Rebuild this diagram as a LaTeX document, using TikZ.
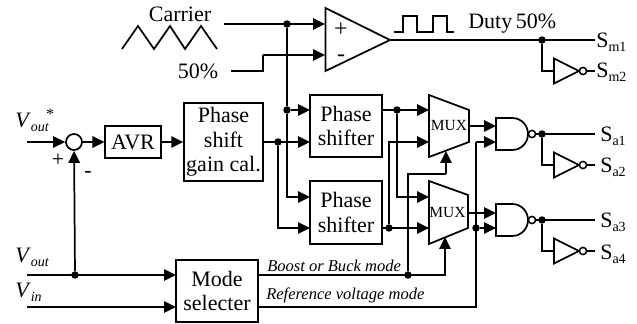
\documentclass[tikz,border=0pt]{standalone}
\usepackage{fontspec}
\setmainfont{Liberation Serif}
\usetikzlibrary{arrows.meta, positioning, calc}
\tikzset{
    wire/.style  ={line width=1.3pt, draw=black, line join=miter},
    ar/.style    ={wire, -{Triangle[length=9pt, width=8.5pt]}},
    blk/.style   ={draw=black, line width=1.3pt, fill=white, inner sep=0pt,
                   align=center, font=\fontsize{16.5}{18.5}\selectfont},
    jn/.style    ={circle, fill=black, inner sep=0pt, minimum size=5.6pt},
    bub/.style   ={circle, draw=black, line width=1.1pt, fill=white, inner sep=0pt, minimum size=5.4pt},
    lbl/.style   ={font=\fontsize{16.5}{18.5}\selectfont, inner sep=0pt},
    modelbl/.style={font=\fontsize{12.4}{14}\itshape, inner sep=0pt, anchor=west},
    muxlbl/.style={font=\fontsize{11.6}{13}\selectfont, inner sep=0pt}
}
\newcommand{\subs}[1]{\raisebox{-2.6pt}{\fontsize{10.5}{12}\selectfont #1}}
\newcommand{\nandg}[3]{%
  \draw[wire, fill=white, shift={(#2,#3)}] (0,0) -- (16,0) .. controls (26,0) and (32,8) .. (32,16)
     .. controls (32,24) and (26,32) .. (16,32) -- (0,32) -- cycle;
  \node[bub] (#1) at (#2+36,#3+16) {};}
\newcommand{\invg}[2]{%
  \draw[wire, fill=white] (554,#2-12.5) -- (579,#2) -- (554,#2+12.5) -- cycle;
  \coordinate (#1in) at (554,#2);
  \node[bub] (#1) at (583,#2) {};
  \coordinate (#1out) at (595,#2);}

\begin{document}
\begin{tikzpicture}[x=0.75pt, y=-0.75pt]
  \useasboundingbox (0,0) rectangle (637,324);

  % blocks
  \node[blk, minimum width=41.5pt, minimum height=23.5pt] (avr) at (133,142) {AVR};
  \node[blk, minimum width=59pt, minimum height=58.5pt] (gain) at (223.5,142) {Phase\\shift\\gain cal.};
  \node[blk, minimum width=54pt, minimum height=46.5pt] (ps1) at (346,126) {Phase\\shifter};
  \node[blk, minimum width=54pt, minimum height=47pt] (ps2) at (346,212.5) {Phase\\shifter};
  \node[blk, minimum width=61.5pt, minimum height=46.5pt] (mode) at (217,291) {Mode\\selecter};
  \node[circle, draw=black, line width=1.3pt, fill=white, inner sep=0pt, minimum size=12pt] (sum) at (74,142) {};

  % comparator and mux
  \draw[wire, fill=white] (325.5,8) -- (390,40) -- (325.5,71) -- cycle;
  \draw[wire, fill=white] (429,95) -- (469,110) -- (469,142) -- (429,157) -- cycle;
  \draw[wire, fill=white] (429,181) -- (468,195) -- (468,228) -- (429,244) -- cycle;
  \node[muxlbl] (mux1) at (449,126) {MUX};
  \node[muxlbl] (mux2) at (447.5,213) {MUX};
  \node[lbl, font=\fontsize{18}{20}\selectfont] (plus) at (341,30) {+};
  \node[lbl, font=\fontsize{18}{20}\selectfont] (minus) at (341,58) {-};

  % gates
  \nandg{nand1}{496}{118}
  \nandg{nand2}{496}{204}
  \invg{im2}{71}
  \invg{ia2}{165}
  \invg{ia4}{251}

  % carrier and pulse
  \draw[wire] (122,49) -- (138,26) -- (154,49) -- (170,26) -- (185,49) -- (201,26) -- (217,49);
  \draw[wire] (393.5,32) -- (403,32) -- (403,16) -- (417,16) -- (417,32) -- (433,32) -- (433,16) -- (447,16) -- (447,32) -- (454,32);

  % free ends and junctions
  \coordinate (carr) at (224,24);
  \coordinate (c50) at (231,71);
  \coordinate (cmpp) at (325,24);
  \coordinate (cmpm) at (325,55);
  \coordinate (cmpo) at (390,40);
  \coordinate (vref) at (27,142);
  \coordinate (vo) at (27,275);
  \coordinate (vi) at (27,307);
  \coordinate (sm1) at (595,40);
  \coordinate (sa1) at (595,134);
  \coordinate (sa3) at (595,220);
  \coordinate (m1a) at (429,110);
  \coordinate (m1b) at (429,142);
  \coordinate (m1s) at (446,151);
  \coordinate (m1o) at (469,126);
  \coordinate (m2a) at (429,197);
  \coordinate (m2b) at (429,228);
  \coordinate (m2s) at (445,237);
  \coordinate (m2o) at (468,213);
  \coordinate (n1a) at (496,126);
  \coordinate (n1b) at (496,142);
  \coordinate (n2a) at (496,213);
  \coordinate (n2b) at (496,228);
  \coordinate (p1a) at (310,110);
  \coordinate (p1b) at (310,142);
  \coordinate (p2a) at (310,197);
  \coordinate (p2b) at (310,228);
  \coordinate (md1) at (176,275);
  \coordinate (md2) at (176,307);
  \coordinate (mdo1) at (258,275);
  \coordinate (mdo2) at (258,307);
  \coordinate (bend) at (446,174);
  \node[jn] (jc)  at (287,24) {};
  \node[jn] (jp)  at (287,110) {};
  \node[jn] (jg)  at (278,142) {};
  \node[jn] (jo1) at (397,110) {};
  \node[jn] (jo2) at (389,228) {};
  \node[jn] (jm)  at (542,40) {};
  \node[jn] (jv)  at (75,275) {};
  \node[jn] (jb)  at (408,275) {};
  \node[jn] (jr)  at (476,228) {};
  \node[jn] (ja1) at (542,134) {};
  \node[jn] (ja3) at (542,220) {};

  % top row
  \draw[ar] (carr) -- (cmpp);
  \draw[wire] (c50) -- (263,71) -- (263,55);
  \draw[ar] (263,55) -- (cmpm);
  \draw[wire] (jc) -- (jp);
  \draw[ar] (jp) -- (p1a);
  \draw[ar] (jp) |- (p2a);
  \draw[wire] (cmpo) -- (sm1);
  \draw[wire] (jm) |- (im2in);
  \draw[wire] (im2) -- (im2out);

  % feedback path
  \draw[ar] (vref) -- (sum);
  \draw[ar] (sum) -- (avr);
  \draw[ar] (avr) -- (gain);
  \draw[ar] (gain.east |- jg) -- (p1b);
  \draw[ar] (jg) |- (p2b);
  \draw[ar] (jv) -- (sum);
  \draw[ar] (vo) -- (md1);
  \draw[ar] (vi) -- (md2);

  % phase shifters to mux
  \draw[ar] ($(ps1.east |- jo1)$) -- (m1a);
  \draw[ar] (jo1) |- (m2a);
  \draw[ar] ($(ps2.east |- jo2)$) -- (m2b);
  \draw[ar] (jo2) |- (m1b);

  % mode lines
  \draw[ar] (mdo1) -| (m2s);
  \draw[wire] (jb) |- (bend);
  \draw[ar] (bend) -- (m1s);
  \draw[wire] (mdo2) -| (476,142);
  \draw[ar] (476,142) -- (n1b);
  \draw[ar] (jr) -- (n2b);

  % mux to gates
  \draw[ar] (m1o) -- (n1a);
  \draw[ar] (m2o) -- (n2a);
  \draw[wire] (nand1) -- (sa1);
  \draw[wire] (nand2) -- (sa3);
  \draw[wire] (ja1) |- (ia2in);
  \draw[wire] (ia2) -- (ia2out);
  \draw[wire] (ja3) |- (ia4in);
  \draw[wire] (ia4) -- (ia4out);

  % labels
  \node[lbl] (lcarr) at (180,14) {Carrier};
  \node[lbl] (l50) at (198,71) {50\%};
  \node[lbl, anchor=west] (lduty) at (468,24) {Duty\,50\%};
  \node[lbl, anchor=base west] (lsm1) at (596,48) {S\subs{m1}};
  \node[lbl, anchor=base west] (lsm2) at (596,78) {S\subs{m2}};
  \node[lbl, anchor=base west] (lsa1) at (600,142) {S\subs{a1}};
  \node[lbl, anchor=base west] (lsa2) at (600,173) {S\subs{a2}};
  \node[lbl, anchor=base west] (lsa3) at (600,228) {S\subs{a3}};
  \node[lbl, anchor=base west] (lsa4) at (600,260) {S\subs{a4}};
  \node[lbl, anchor=base west] (lvref) at (15,128) {\textit{V}\subs{\textit{out}}};
  \node[lbl, font=\fontsize{12}{13}\selectfont] (lstar) at (50,114) {*};
  \node[lbl, anchor=base west] (lvo) at (15,263) {\textit{V}\subs{\textit{out}}};
  \node[lbl, anchor=base west] (lvi) at (15,298) {\textit{V}\subs{\textit{in}}};
  \node[lbl] (lplus) at (58,160) {+};
  \node[lbl] (lminus) at (88,174) {-};
  \node[modelbl] (lboost) at (267,266) {Boost or Buck mode};
  \node[modelbl] (lrefv) at (266,295) {Reference voltage mode};
\end{tikzpicture}
\end{document}
